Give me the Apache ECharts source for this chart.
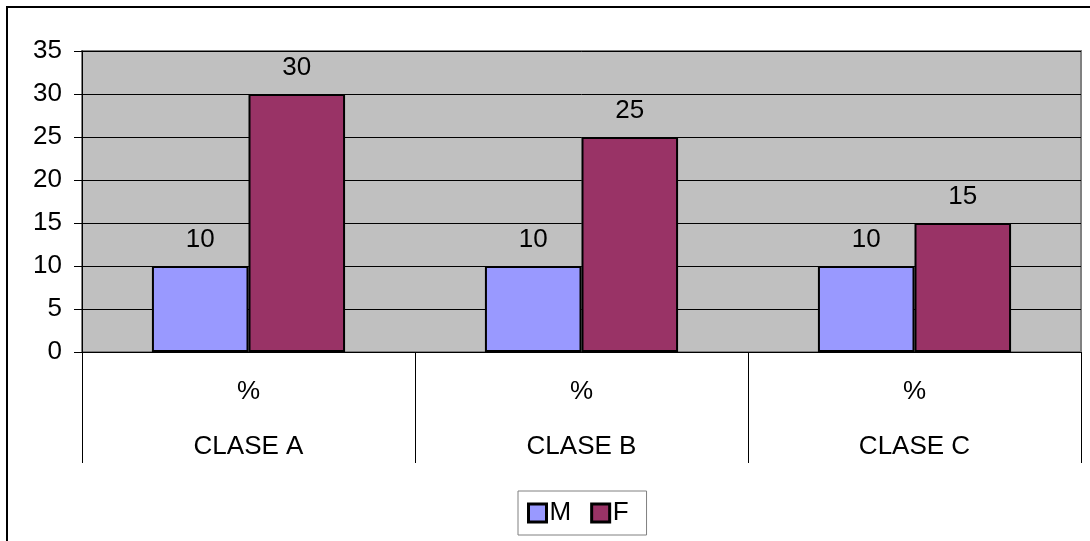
<!DOCTYPE html>
<html>
<head>
<meta charset="utf-8">
<script src="https://cdn.jsdelivr.net/npm/echarts@6/dist/echarts.min.js"></script>
<style>
  html, body { margin: 0; padding: 0; background: #fff; }
  #chart { width: 1090px; height: 541px; }
</style>
</head>
<body>
<div id="chart"></div>
<script>
// Class names and the unit row shown above them on the category axis
const categories = ['CLASE A', 'CLASE B', 'CLASE C'];
const unitLabel = '%';

// Percentages per class
const seriesM = [10, 10, 10];
const seriesF = [30, 25, 15];

// Value axis range
const yMin = 0;
const yMax = 35;
const yStep = 5;

const FONT = '"Liberation Sans", Arial, sans-serif';
const FS = 26;

const chart = echarts.init(document.getElementById('chart'), null, { renderer: 'canvas' });

const barLabel = {
  show: true,
  position: 'top',
  distance: 13,
  color: '#000',
  fontFamily: FONT,
  fontSize: FS
};

chart.setOption({
  backgroundColor: '#fff',
  animation: false,
  graphic: [{
    type: 'rect',
    shape: { x: 7, y: 7, width: 1200, height: 700 },
    style: { fill: 'none', stroke: '#000', lineWidth: 2 },
    silent: true
  }],
  grid: {
    left: 82,
    right: 9,
    top: 51,
    bottom: 189,
    show: true,
    backgroundColor: '#C0C0C0',
    borderColor: '#808080',
    borderWidth: 2
  },
  legend: {
    left: 518,
    top: 491,
    orient: 'horizontal',
    icon: 'rect',
    itemWidth: 18,
    itemHeight: 18,
    itemGap: 19,
    padding: [9, 18, 9, 9],
    borderColor: '#808080',
    borderWidth: 1,
    itemStyle: { borderColor: '#000', borderWidth: 3 },
    textStyle: { color: '#000', fontFamily: FONT, fontSize: FS, padding: [0, 0, 0, -2] },
    data: ['M', 'F']
  },
  xAxis: {
    type: 'category',
    data: categories,
    boundaryGap: true,
    axisLine: { show: true, lineStyle: { color: '#000', width: 1 } },
    axisTick: {
      show: true,
      interval: 0,
      length: 111,
      inside: false,
      lineStyle: { color: '#000', width: 1 }
    },
    axisLabel: {
      interval: 0,
      margin: 12,
      formatter: function (name) { return unitLabel + '\n' + name; },
      color: '#000',
      fontFamily: FONT,
      fontSize: FS,
      lineHeight: 55
    },
    splitLine: { show: false }
  },
  yAxis: {
    type: 'value',
    min: yMin,
    max: yMax,
    interval: yStep,
    axisLine: { show: true, lineStyle: { color: '#000', width: 1 } },
    axisTick: { show: true, length: 8, lineStyle: { color: '#000', width: 1 } },
    axisLabel: {
      color: '#000',
      fontFamily: FONT,
      fontSize: FS,
      margin: 20
    },
    splitLine: { show: true, lineStyle: { color: '#000', width: 1 } }
  },
  series: [
    {
      name: 'M',
      type: 'bar',
      data: seriesM,
      barGap: '0%',
      barCategoryGap: '42%',
      itemStyle: { color: '#9999FF', borderColor: '#000', borderWidth: 2 },
      label: barLabel
    },
    {
      name: 'F',
      type: 'bar',
      data: seriesF,
      barGap: '0%',
      barCategoryGap: '42%',
      itemStyle: { color: '#993366', borderColor: '#000', borderWidth: 2 },
      label: barLabel
    }
  ]
});
</script>
</body>
</html>
